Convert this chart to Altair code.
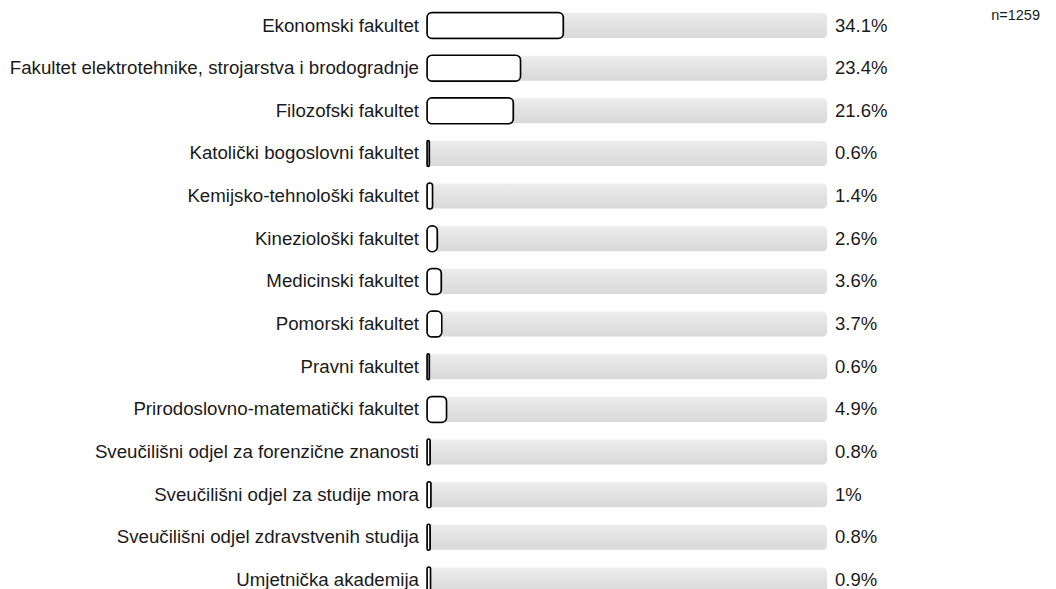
import altair as alt
import pandas as pd

faculties = [
    "Ekonomski fakultet",
    "Fakultet elektrotehnike, strojarstva i brodogradnje",
    "Filozofski fakultet",
    "Katolički bogoslovni fakultet",
    "Kemijsko-tehnološki fakultet",
    "Kineziološki fakultet",
    "Medicinski fakultet",
    "Pomorski fakultet",
    "Pravni fakultet",
    "Prirodoslovno-matematički fakultet",
    "Sveučilišni odjel za forenzične znanosti",
    "Sveučilišni odjel za studije mora",
    "Sveučilišni odjel zdravstvenih studija",
    "Umjetnička akademija",
]
values = [34.1, 23.4, 21.6, 0.6, 1.4, 2.6, 3.6, 3.7, 0.6, 4.9, 0.8, 1.0, 0.8, 0.9]
value_labels = ["34.1%", "23.4%", "21.6%", "0.6%", "1.4%", "2.6%", "3.6%", "3.7%",
                "0.6%", "4.9%", "0.8%", "1%", "0.8%", "0.9%"]
sample_note = "n=1259"

df = pd.DataFrame({
    "idx": list(range(len(faculties))),
    "faculty": faculties,
    "value": values,
    "label": value_labels,
})

FONT = "Liberation Sans"
yscale = alt.Scale(domain=[-0.4103, 13.2107], reverse=True, nice=False, zero=False, padding=0)
xscale = alt.Scale(domain=[0, 100], nice=False, padding=0)

base = alt.Chart(df)

track = base.mark_bar(
    orient="horizontal", size=25, cornerRadius=4,
    fill=alt.Gradient(
        gradient="linear",
        stops=[alt.GradientStop(color="#ececec", offset=0),
               alt.GradientStop(color="#d9d9d9", offset=1)],
        x1=0, y1=0, x2=0, y2=1,
    ),
).encode(
    x=alt.datum(100, scale=xscale, axis=None),
    y=alt.Y("idx:Q", scale=yscale, axis=None),
)

bars = base.mark_bar(
    orient="horizontal", size=26, cornerRadius=5,
    fill="white", stroke="black", strokeWidth=1.5,
).encode(
    x=alt.X("value:Q", scale=xscale, axis=None),
    y=alt.Y("idx:Q", scale=yscale, axis=None),
)

cat_text = base.mark_text(
    align="right", baseline="middle", font=FONT, fontSize=18.7, color="#1a1a1a",
).encode(
    x=alt.value(-8),
    y=alt.Y("idx:Q", scale=yscale, axis=None),
    text="faculty:N",
)

val_text = base.mark_text(
    align="left", baseline="middle", font=FONT, fontSize=18.5, color="#1a1a1a",
).encode(
    x=alt.value(408),
    y=alt.Y("idx:Q", scale=yscale, axis=None),
    text="label:N",
)

note = alt.Chart(pd.DataFrame({"t": [sample_note]})).mark_text(
    align="right", baseline="middle", font=FONT, fontSize=14.5, color="#1a1a1a",
).encode(
    x=alt.value(613),
    y=alt.value(8),
    text="t:N",
)

chart = alt.layer(track, bars, cat_text, val_text, note).properties(
    width=400,
    height=581,
    autosize=alt.AutoSizeParams(type="none"),
    padding={"left": 419, "top": 0, "right": 221, "bottom": 0},
).configure_view(stroke=None)

chart.save("out.html", embed_options={"renderer": "svg", "actions": False})
